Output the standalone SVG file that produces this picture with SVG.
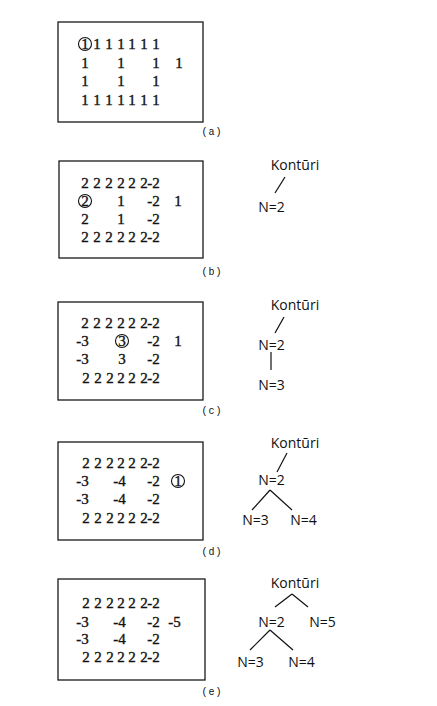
<svg xmlns="http://www.w3.org/2000/svg" width="437" height="706" viewBox="0 0 437 706">
<style>
.bg{fill:#fff}
.box{fill:none;stroke:#1a1a1a;stroke-width:1.3}
.d text{font-family:"Liberation Serif","DejaVu Serif",serif;font-size:15px;text-anchor:middle;fill:#111;stroke:#111;stroke-width:0.35}
.n text{font-family:"Liberation Serif","DejaVu Serif",serif;font-size:15px;text-anchor:end;fill:#111;stroke:#111;stroke-width:0.35}
.c{fill:none;stroke:#111;stroke-width:1.1}
.t{font-family:"Open Sans",sans-serif;font-size:14px;text-anchor:middle;fill:#111}
.e{stroke:#111;stroke-width:1.2;fill:none}
.lbl{font-family:"Liberation Mono",monospace;font-size:10px;text-anchor:middle;fill:#111;letter-spacing:1px}
</style>
<rect class="bg" width="437" height="706"/>

<!-- (a) -->
<g id="panel-a">
<rect class="box" x="58" y="22" width="145" height="100"/>
<circle class="c" cx="85" cy="44" r="6.5"/>
<g class="d">
<text x="85" y="49">1</text><text x="97" y="49">1</text><text x="109" y="49">1</text><text x="121" y="49">1</text><text x="132" y="49">1</text><text x="144" y="49">1</text><text x="156" y="49">1</text>
<text x="85" y="68">1</text><text x="121" y="68">1</text><text x="156" y="68">1</text><text x="179" y="68">1</text>
<text x="85" y="86">1</text><text x="121" y="86">1</text><text x="156" y="86">1</text>
<text x="85" y="105">1</text><text x="97" y="105">1</text><text x="109" y="105">1</text><text x="121" y="105">1</text><text x="132" y="105">1</text><text x="144" y="105">1</text><text x="156" y="105">1</text>
</g>
<text class="lbl" x="212" y="135">(a)</text>
</g>

<!-- (b) -->
<g id="panel-b">
<rect class="box" x="59" y="161" width="144" height="97"/>
<circle class="c" cx="85" cy="201" r="6.5"/>
<g class="d">
<text x="85" y="188">2</text><text x="97" y="188">2</text><text x="109" y="188">2</text><text x="121" y="188">2</text><text x="132" y="188">2</text><text x="144" y="188">2</text>
<text x="85" y="206">2</text><text x="121" y="206">1</text><text x="178" y="206">1</text>
<text x="85" y="224">2</text><text x="121" y="224">1</text>
<text x="85" y="242">2</text><text x="97" y="242">2</text><text x="109" y="242">2</text><text x="121" y="242">2</text><text x="132" y="242">2</text><text x="144" y="242">2</text>
</g>
<g class="n">
<text x="159.8" y="188">-2</text><text x="159.8" y="206">-2</text><text x="159.8" y="224">-2</text><text x="159.8" y="242">-2</text>
</g>
<text class="lbl" x="212" y="275">(b)</text>
</g>

<!-- (c) -->
<g id="panel-c">
<rect class="box" x="58" y="302" width="145" height="98"/>
<circle class="c" cx="122" cy="341" r="6.5"/>
<g class="d">
<text x="85" y="328">2</text><text x="97" y="328">2</text><text x="109" y="328">2</text><text x="121" y="328">2</text><text x="132" y="328">2</text><text x="144" y="328">2</text>
<text x="122" y="346">3</text><text x="178" y="346">1</text>
<text x="122" y="364">3</text>
<text x="86" y="383">2</text><text x="98" y="383">2</text><text x="110" y="383">2</text><text x="121" y="383">2</text><text x="132" y="383">2</text><text x="144" y="383">2</text>
</g>
<g class="n">
<text x="88.8" y="346">-3</text><text x="88.8" y="364">-3</text>
<text x="159.8" y="328">-2</text><text x="159.8" y="346">-2</text><text x="159.8" y="364">-2</text><text x="159.8" y="383">-2</text>
</g>
<text class="lbl" x="212" y="414">(c)</text>
</g>

<!-- (d) -->
<g id="panel-d">
<rect class="box" x="58" y="442" width="145" height="98"/>
<circle class="c" cx="178" cy="481" r="6.5"/>
<g class="d">
<text x="86" y="468">2</text><text x="98" y="468">2</text><text x="110" y="468">2</text><text x="121" y="468">2</text><text x="132" y="468">2</text><text x="144" y="468">2</text>
<text x="178" y="486">1</text>
<text x="86" y="523">2</text><text x="98" y="523">2</text><text x="110" y="523">2</text><text x="121" y="523">2</text><text x="132" y="523">2</text><text x="144" y="523">2</text>
</g>
<g class="n">
<text x="88.8" y="486">-3</text><text x="88.8" y="504">-3</text>
<text x="125.8" y="486">-4</text><text x="125.8" y="504">-4</text>
<text x="159.8" y="468">-2</text><text x="159.8" y="486">-2</text><text x="159.8" y="504">-2</text><text x="159.8" y="523">-2</text>
</g>
<text class="lbl" x="212" y="555">(d)</text>
</g>

<!-- (e) -->
<g id="panel-e">
<rect class="box" x="58" y="579" width="147" height="101"/>
<g class="d">
<text x="86" y="608">2</text><text x="98" y="608">2</text><text x="110" y="608">2</text><text x="121" y="608">2</text><text x="132" y="608">2</text><text x="144" y="608">2</text>
<text x="86" y="662">2</text><text x="98" y="662">2</text><text x="110" y="662">2</text><text x="121" y="662">2</text><text x="132" y="662">2</text><text x="144" y="662">2</text>
</g>
<g class="n">
<text x="88.8" y="627">-3</text><text x="88.8" y="644">-3</text>
<text x="125.8" y="627">-4</text><text x="125.8" y="644">-4</text>
<text x="159.8" y="608">-2</text><text x="159.8" y="627">-2</text><text x="159.8" y="644">-2</text><text x="159.8" y="662">-2</text>
<text x="180.8" y="627">-5</text>
</g>
<text class="lbl" x="212" y="695">(e)</text>
</g>

<!-- tree connectors -->
<g id="connectors">
<line class="e" x1="285" y1="177" x2="275" y2="193"/>
<line class="e" x1="284" y1="317" x2="275" y2="333"/>
<line class="e" x1="271" y1="352" x2="271" y2="370"/>
<line class="e" x1="287" y1="453" x2="277" y2="472"/>
<line class="e" x1="270" y1="490" x2="252" y2="510"/>
<line class="e" x1="270" y1="490" x2="292" y2="510"/>
<line class="e" x1="292" y1="594" x2="275" y2="607"/>
<line class="e" x1="292" y1="594" x2="308" y2="607"/>
<line class="e" x1="270" y1="630" x2="250" y2="650"/>
<line class="e" x1="270" y1="630" x2="293" y2="650"/>
</g>

<!-- tree nodes -->
<g id="tree-b">
<g id="b-root"><text class="t" x="295" y="170">Kontūri</text></g>
<g id="b-n2"><text class="t" x="271.5" y="212">N=2</text></g>
</g>
<g id="tree-c">
<g id="c-root"><text class="t" x="295" y="310">Kontūri</text></g>
<g id="c-n2"><text class="t" x="271.5" y="350">N=2</text></g>
<g id="c-n3"><text class="t" x="271.5" y="390">N=3</text></g>
</g>
<g id="tree-d">
<g id="d-root"><text class="t" x="295" y="448">Kontūri</text></g>
<g id="d-n2"><text class="t" x="271.5" y="485">N=2</text></g>
<g id="d-n3"><text class="t" x="255.5" y="525">N=3</text></g>
<g id="d-n4"><text class="t" x="303.5" y="525">N=4</text></g>
</g>
<g id="tree-e">
<g id="e-root"><text class="t" x="295" y="588">Kontūri</text></g>
<g id="e-n2"><text class="t" x="271.5" y="627">N=2</text></g>
<g id="e-n5"><text class="t" x="322.5" y="627">N=5</text></g>
<g id="e-n3"><text class="t" x="250.5" y="667">N=3</text></g>
<g id="e-n4"><text class="t" x="301.5" y="667">N=4</text></g>
</g>
</svg>
